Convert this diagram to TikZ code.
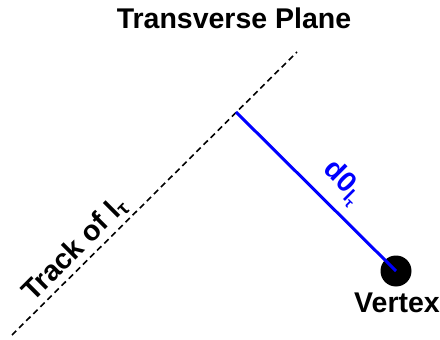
\documentclass[tikz,border=0pt]{standalone}
\usepackage{fontspec}
\setmainfont{Liberation Sans}
\begin{document}
\begin{tikzpicture}[x=1pt,y=-1pt,
  lbl/.style={font=\bfseries\fontsize{28.5}{32}\selectfont, inner sep=0pt},
  track/.style={draw=black, line width=1.6pt, dash pattern=on 6pt off 4pt},
  dist/.style={draw=blue, line width=3pt}]
\useasboundingbox (0,0) rectangle (440,340);
\coordinate (t0) at (12,335);
\coordinate (t1) at (297,52);
\coordinate (foot) at (236,112);
\node[circle, fill=black, minimum size=31pt, inner sep=0pt] (vtx) at (396,271) {};
\draw[track] (t0) -- (t1);
\draw[dist] (foot) -- (vtx.center);
\node[lbl] (title) at (234,18) {Transverse Plane};
\node[lbl] (vlab) at (397,303) {Vertex};
\node[lbl, rotate=45] (tlab) at (75,249) {Track of l\textsubscript{τ}};
\node[lbl, text=blue, rotate=-45] (dlab) at (343,183) {d0\textsubscript{l\textsubscript{τ}}};
\end{tikzpicture}
\end{document}
